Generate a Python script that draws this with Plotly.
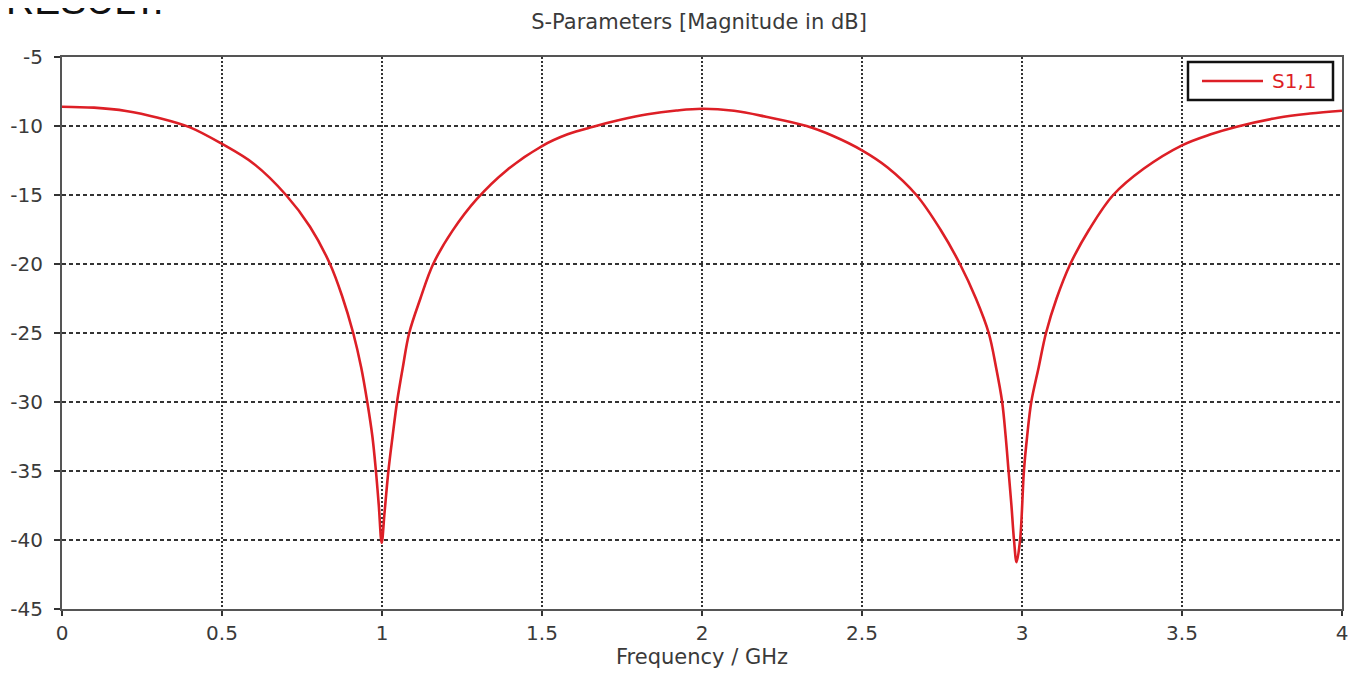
import plotly.graph_objects as go

# Frequency (GHz) and S1,1 magnitude (dB)
freq_ghz = [0.00, 0.10, 0.20, 0.30, 0.40, 0.50, 0.60, 0.70, 0.775, 0.8375, 0.875, 0.91,
            0.935, 0.954, 0.970, 0.981, 0.990, 0.999, 1.008, 1.020, 1.033, 1.047, 1.065,
            1.085, 1.12, 1.16, 1.22, 1.296, 1.39, 1.50, 1.58, 1.66, 1.745, 1.83, 1.92, 2.00,
            2.10, 2.20, 2.327, 2.41, 2.50, 2.58, 2.67, 2.745, 2.806, 2.856, 2.896, 2.919,
            2.938, 2.949, 2.958, 2.967, 2.975, 2.983, 2.994, 3.006, 3.016, 3.029, 3.052,
            3.075, 3.108, 3.151, 3.21, 3.285, 3.38, 3.50, 3.59, 3.671, 3.80, 3.90, 4.00]
s11_db = [-8.6, -8.67, -8.91, -9.4, -10.1, -11.3, -12.75, -15.0, -17.3, -20.0, -22.3, -25.0,
          -27.5, -30.0, -32.5, -35.0, -37.5, -40.2, -38.0, -35.0, -32.5, -30.0, -27.5,
          -25.0, -22.5, -20.0, -17.6, -15.3, -13.2, -11.45, -10.6, -10.05, -9.55, -9.15, -8.88, -8.75,
          -8.9, -9.33, -10.0, -10.72, -11.76, -13.0, -15.0, -17.5, -20.0, -22.5, -25.0, -27.5,
          -30.0, -32.5, -35.0, -37.5, -40.0, -41.6, -40.0, -35.0, -32.5, -30.0, -27.5,
          -25.0, -22.5, -20.0, -17.5, -15.0, -13.1, -11.4, -10.6, -10.05, -9.4, -9.1, -8.9]

x_ticks = [0, 0.5, 1, 1.5, 2, 2.5, 3, 3.5, 4]
x_tick_labels = ["0", "0.5", "1", "1.5", "2", "2.5", "3", "3.5", "4"]
y_ticks = [-5, -10, -15, -20, -25, -30, -35, -40, -45]
y_tick_labels = ["-5", "-10", "-15", "-20", "-25", "-30", "-35", "-40", "-45"]
series_name = "S1,1"

FONT = "DejaVu Sans"
RED = "#dd1f26"
TXT = "#3a3a3a"

# Figure geometry (page body adds an 8px offset)
W, H = 1356, 667
ML, MT, PW, PH = 54, 49, 1280, 552


def px(xp):
    return (xp - ML) / PW


def py(yp):
    return 1 - (yp - MT) / PH


fig = go.Figure()
fig.add_trace(go.Scatter(
    x=freq_ghz, y=s11_db, mode="lines", name=series_name, showlegend=False,
    line=dict(color=RED, width=2.6, shape="spline", smoothing=1.0),
))

fig.update_layout(
    width=W, height=H,
    margin=dict(l=ML, r=W - ML - PW, t=MT, b=H - MT - PH, autoexpand=False),
    paper_bgcolor="white", plot_bgcolor="white",
    font=dict(family=FONT, color=TXT, size=20),
    title=dict(text="S-Parameters [Magnitude in dB]", x=691 / W, xanchor="center",
               y=1 - 14 / H, yanchor="middle", font=dict(family=FONT, size=21, color=TXT)),
    showlegend=False,
)

fig.update_xaxes(
    range=[0, 4], tickvals=x_ticks, ticktext=x_tick_labels,
    showgrid=True, gridcolor="#333333", gridwidth=1.6, griddash="2px,2px",
    showline=True, linecolor="#555555", linewidth=2, mirror=True,
    ticks="outside", ticklen=5, tickcolor="#333333", tickwidth=2,
    tickfont=dict(family=FONT, size=20, color=TXT),
    title=dict(text="Frequency / GHz", font=dict(family=FONT, size=21, color=TXT), standoff=4),
    zeroline=False,
)
fig.update_yaxes(
    range=[-45, -5], tickvals=y_ticks, ticktext=y_tick_labels,
    showgrid=True, gridcolor="#333333", gridwidth=1.6, griddash="4px,3px",
    showline=True, linecolor="#555555", linewidth=2, mirror=True,
    ticks="outside", ticklen=6, tickcolor="#333333", tickwidth=2,
    ticklabelstandoff=7,
    tickfont=dict(family=FONT, size=20, color=TXT),
    zeroline=False,
)

# Legend box drawn to match the reference's wide legend
fig.add_shape(type="rect", xref="paper", yref="paper",
              x0=px(1180), x1=px(1325), y0=py(92), y1=py(54),
              line=dict(color="#111111", width=2.5), fillcolor="white", layer="above")
fig.add_shape(type="line", xref="paper", yref="paper",
              x0=px(1194), x1=px(1255), y0=py(73), y1=py(73),
              line=dict(color=RED, width=2.6), layer="above")
fig.add_annotation(text=series_name, xref="paper", yref="paper", x=px(1262), xanchor="left",
                   y=py(73), yanchor="middle", showarrow=False,
                   font=dict(family=FONT, size=20, color=RED))

# Clipped heading at the top of the page, as in the reference
fig.add_annotation(
    text="RESULT:", xref="paper", yref="paper", x=px(-4), xanchor="left",
    y=py(16), yanchor="bottom", showarrow=False,
    font=dict(family="Liberation Sans", size=39, color="#111111"),
)

fig.write_html("out.html")
